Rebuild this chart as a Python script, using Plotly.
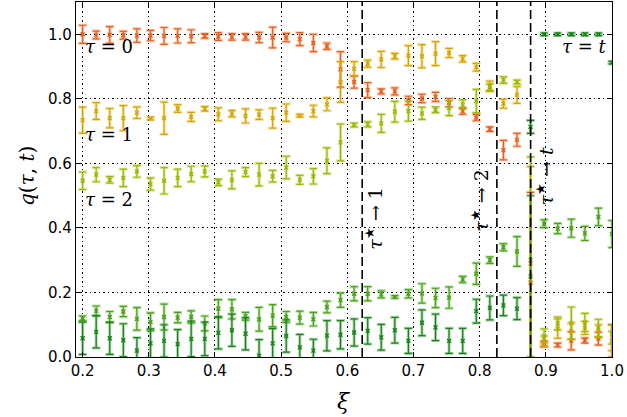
import plotly.graph_objects as go

xi = [0.2, 0.2205, 0.241, 0.2615, 0.282, 0.3026, 0.3231, 0.3436, 0.3641, 0.3846,
      0.4051, 0.4256, 0.4462, 0.4667, 0.4872, 0.5077, 0.5282, 0.5487, 0.5692, 0.5897,
      0.6103, 0.6308, 0.6513, 0.6718, 0.6923, 0.7128, 0.7333, 0.7538, 0.7744, 0.7949,
      0.8154, 0.8359, 0.8564, 0.8769, 0.8974, 0.9179, 0.9385, 0.959, 0.9795, 1.0]

q0 = [1.0, 0.998, 0.998, 0.997, 0.996, 0.996, 0.995, 0.995, 0.994, 0.995, 0.993, 0.992, 0.992, 0.990,
      0.990, 0.990, 0.985, 0.973, 0.963, 0.891, 0.852, 0.827, 0.823, 0.823, 0.795, 0.801, 0.806, 0.788, 0.762,
      0.742, 0.706, 0.641, 0.673, 0.23, 0.04, 0.037, 0.05, 0.051, 0.057, 0.05]
e0 = [0.028, 0.012, 0.026, 0.012, 0.021, 0.016, 0.026, 0.022, 0.02, 0.007, 0.012, 0.01, 0.01, 0.016,
      0.032, 0.013, 0.02, 0.027, 0.01, 0.055, 0.019, 0.023, 0.008, 0.011, 0.013, 0.013, 0.014, 0.013, 0.01,
      0.01, 0.007, 0.03, 0.02, 0.28, 0.009, 0.006, 0.028, 0.008, 0.02, 0.05]

q1 = [0.734, 0.762, 0.740, 0.740, 0.757, 0.739, 0.740, 0.770, 0.744, 0.769, 0.752, 0.754, 0.747, 0.751,
      0.740, 0.757, 0.748, 0.762, 0.783, 0.852, 0.893, 0.909, 0.922, 0.932, 0.934, 0.932, 0.940, 0.942, 0.924,
      0.898, 0.839, 0.785, 0.812, 0.29, 0.05, 0.088, 0.08, 0.09, 0.08, 0.05]
e1 = [0.04, 0.026, 0.03, 0.039, 0.018, 0.004, 0.05, 0.012, 0.014, 0.007, 0.02, 0.01, 0.022, 0.015,
      0.031, 0.027, 0.004, 0.018, 0.02, 0.063, 0.022, 0.011, 0.025, 0.009, 0.031, 0.036, 0.037, 0.014, 0.01,
      0.012, 0.016, 0.014, 0.026, 0.30, 0.015, 0.03, 0.025, 0.02, 0.02, 0.03]

q2 = [0.546, 0.565, 0.549, 0.555, 0.575, 0.536, 0.546, 0.555, 0.567, 0.575, 0.541, 0.549, 0.573, 0.565,
      0.560, 0.587, 0.549, 0.560, 0.608, 0.665, 0.719, 0.721, 0.724, 0.760, 0.762, 0.755, 0.766, 0.771, 0.783,
      0.793, 0.836, 0.858, 0.852, 0.30, 0.065, 0.104, 0.105, 0.107, 0.09, 0.07]
e2 = [0.027, 0.022, 0.01, 0.027, 0.018, 0.019, 0.041, 0.027, 0.024, 0.017, 0.01, 0.028, 0.014, 0.035,
      0.018, 0.035, 0.014, 0.024, 0.04, 0.057, 0.006, 0.008, 0.028, 0.032, 0.031, 0.019, 0.009, 0.023, 0.014,
      0.036, 0.01, 0.01, 0.006, 0.32, 0.022, 0.02, 0.05, 0.028, 0.027, 0.03]

q3 = [0.120, 0.143, 0.124, 0.141, 0.118, 0.109, 0.124, 0.122, 0.124, 0.104, 0.150, 0.148, 0.126, 0.117,
      0.128, 0.124, 0.122, 0.117, 0.155, 0.176, 0.196, 0.196, 0.194, 0.186, 0.196, 0.197, 0.183, 0.184, 0.240,
      0.258, 0.300, 0.340, 0.327, 0.25, 0.413, 0.398, 0.399, 0.383, 0.434, 0.381]
e3 = [0.007, 0.015, 0.017, 0.016, 0.035, 0.028, 0.04, 0.016, 0.019, 0.023, 0.028, 0.03, 0.012, 0.037,
      0.034, 0.017, 0.02, 0.021, 0.018, 0.022, 0.022, 0.022, 0.011, 0.004, 0.013, 0.03, 0.03, 0.033, 0.01,
      0.033, 0.01, 0.011, 0.046, 0.25, 0.012, 0.016, 0.028, 0.022, 0.027, 0.042]

qt = [0.058, 0.078, 0.058, 0.052, 0.020, 0.042, 0.050, 0.040, 0.056, 0.056, 0.075, 0.083, 0.072, 0.004,
      0.042, 0.065, 0.030, 0.020, 0.066, 0.069, 0.076, 0.081, 0.061, 0.083, 0.050, 0.106, 0.092, 0.050, 0.050,
      0.142, 0.152, 0.160, 0.150, 0.713, 1.0, 1.0, 1.0, 1.0, 1.0, 0.912]
et = [0.05, 0.05, 0.05, 0.051, 0.04, 0.045, 0.05, 0.045, 0.055, 0.052, 0.05, 0.05, 0.05, 0.05,
      0.046, 0.05, 0.04, 0.035, 0.047, 0.044, 0.042, 0.041, 0.04, 0.04, 0.039, 0.04, 0.041, 0.039, 0.039,
      0.037, 0.037, 0.032, 0.034, 0.02, 0.004, 0.004, 0.004, 0.004, 0.004, 0.004]

series = [
    ("τ=0", q0, e0, (232, 96, 28)),
    ("τ=1", q1, e1, (214, 166, 0)),
    ("τ=2", q2, e2, (154, 185, 0)),
    ("τ=3", q3, e3, (72, 163, 24)),
    ("τ=t", qt, et, (22, 132, 22)),
]

vlines = [0.6225, 0.826, 0.877]
vlabels = [("<i>τ</i><sup>★</sup> → 1", 0.641, 0.43),
           ("<i>τ</i><sup>★</sup> → 2", 0.801, 0.485),
           ("<i>τ</i><sup>★</sup> → <i>t</i>", 0.899, 0.56)]
tlabels = [("<i>τ</i> = 0", 0.2, 0.962),
           ("<i>τ</i> = 1", 0.2, 0.69),
           ("<i>τ</i> = 2", 0.2, 0.487),
           ("<i>τ</i> = <i>t</i>", 0.921, 0.962)]

fig = go.Figure()

for name, q, e, c in series:
    rgba = "rgba(%d,%d,%d,0.35)" % c
    fig.add_trace(go.Scatter(
        x=xi, y=q, mode="markers", showlegend=False, hoverinfo="skip",
        marker=dict(symbol="square", size=4, color=rgba),
        error_y=dict(type="data", array=e, symmetric=True, color=rgba,
                     thickness=3, width=4.5),
    ))

for name, q, e, c in series:
    col = "rgb(%d,%d,%d)" % c
    fig.add_trace(go.Scatter(
        x=xi, y=q, mode="markers", name=name, showlegend=False,
        marker=dict(symbol="x-thin", size=4, line=dict(color=col, width=1.2), color=col),
        error_y=dict(type="data", array=e, symmetric=True, color=col,
                     thickness=1.2, width=3.5),
    ))

for xv in vlines:
    fig.add_shape(type="line", x0=xv, x1=xv, y0=0, y1=1.1, xref="x", yref="y",
                  line=dict(color="black", width=1.6, dash="9px,4px"))

for txt, xv, yv in vlabels:
    fig.add_annotation(x=xv, y=yv, text=txt, showarrow=False, textangle=-90,
                       font=dict(family="DejaVu Serif", size=19, color="black"))

for txt, xv, yv in tlabels:
    fig.add_annotation(x=xv, y=yv, text=txt, showarrow=False, xanchor="left",
                       font=dict(family="DejaVu Serif", size=18, color="black"))

fig.add_annotation(xref="paper", yref="paper", x=0, y=0.51, xshift=-49, textangle=-90,
                   xanchor="center", yanchor="middle",
                   text="<i>q</i>(<i>τ</i>, <i>t</i>)", showarrow=False,
                   font=dict(family="DejaVu Serif", size=20, color="black"))
fig.add_annotation(xref="paper", yref="paper", x=0.5, y=0, yshift=-44,
                   xanchor="center", yanchor="middle",
                   text="<i>ξ</i>", showarrow=False,
                   font=dict(family="DejaVu Serif", size=22, color="black"))

axis_common = dict(showline=True, linecolor="black", linewidth=1.3, mirror="allticks",
                   ticks="inside", ticklen=5, tickcolor="black", tickwidth=1,
                   showgrid=True, gridcolor="black", gridwidth=1, griddash="1.5px,3px",
                   zeroline=False, automargin=False,
                   tickfont=dict(family="DejaVu Sans", size=15, color="black"))

fig.update_xaxes(range=[0.19, 1.0], tickvals=[0.2, 0.3, 0.4, 0.5, 0.6, 0.7, 0.8, 0.9, 1.0],
                 ticktext=["0.2", "0.3", "0.4", "0.5", "0.6", "0.7", "0.8", "0.9", "1.0"],
                 **axis_common)
fig.update_yaxes(range=[0, 1.1], tickvals=[0, 0.2, 0.4, 0.6, 0.8, 1.0],
                 ticktext=["0.0", "0.2", "0.4", "0.6", "0.8", "1.0"],
                 **axis_common)

fig.update_layout(width=627, height=417, margin=dict(l=76, r=15, t=2, b=60),
                  plot_bgcolor="white", paper_bgcolor="white")

fig.write_html("out.html", config={"displayModeBar": False},
               post_script="document.body.style.margin='0';")
